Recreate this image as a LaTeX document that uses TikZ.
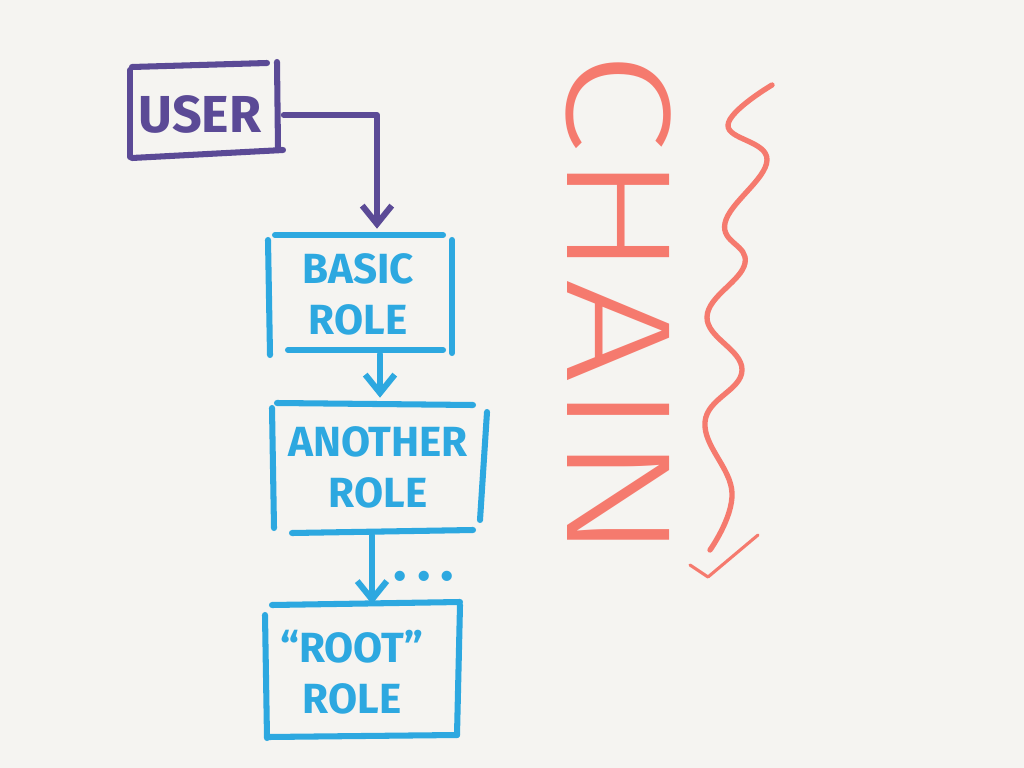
\documentclass[tikz,border=0pt]{standalone}
\usepackage{fontspec}
\setmainfont{Fira Sans}
\newfontfamily\chainfont{Fira Sans Light}
\usetikzlibrary{arrows.meta,calc}
\definecolor{bg}{HTML}{F5F4F1}
\definecolor{userc}{HTML}{5B4A96}
\definecolor{rolec}{HTML}{2DA8E0}
\definecolor{chainc}{HTML}{F57A6E}
\begin{document}
\begin{tikzpicture}[x=0.025cm,y=-0.025cm,line cap=round,line join=round,
  pen/.style={line width=4.3pt},
  upen/.style={pen,draw=userc},
  bpen/.style={pen,draw=rolec},
  tip/.style={-{Straight Barb[length=13pt,width=21pt]}},
  lbl/.style={font=\fontsize{30}{36}\selectfont\bfseries,align=center,inner sep=0pt},
  ulbl/.style={lbl,text=userc,font=\fontsize{37}{40}\selectfont\bfseries},
  blbl/.style={lbl,text=rolec}]
\fill[bg] (0,0) rectangle (1024,768);
\useasboundingbox (0,0) rectangle (1024,768);

% USER
\node[ulbl,minimum width=3.675cm,minimum height=2.25cm] (user) at (200,114) {USER};
\draw[upen] (132,67) -- (267,63);
\draw[upen] (277,62) -- (278,148);
\draw[upen] (132,158) -- (283,150);
\draw[upen] (130,70) -- (130,157);

% BASIC ROLE
\node[blbl,minimum width=4.675cm,minimum height=2.875cm] (basic) at (358,294.5) {BASIC\\ROLE};
\draw[bpen] (275,235) -- (443,235);
\draw[bpen] (268,240) -- (270,355);
\draw[bpen] (452,240) -- (452,353);
\draw[bpen] (288,350) -- (443,350);

% ANOTHER ROLE
\node[blbl,minimum width=5.35cm,minimum height=3.125cm] (another) at (378,467.5) {ANOTHER\\ROLE};
\draw[bpen] (277,403) -- (473,405);
\draw[bpen] (272,408) -- (274,528);
\draw[bpen] (487,412) -- (480,520);
\draw[bpen] (292,533) -- (473,530);

% ROOT ROLE
\node[blbl,minimum width=4.95cm,minimum height=3.375cm] (root) at (352,672) {“ROOT”\\ROLE};
\draw[bpen] (272,605) -- (460,602);
\draw[bpen] (265,615) -- (267,738);
\draw[bpen] (460,605) -- (457,735);
\draw[bpen] (268,737) -- (457,735);

\node[blbl,font=\fontsize{40}{40}\selectfont\bfseries] (dots) at (424,576) {.\hspace{7pt}.\hspace{7pt}.};

% connectors
\draw[upen,tip] ($(user.east)+(10,1)$) -| ($(basic.north)+(19,-8)$);
\draw[bpen,tip] ($(basic.south)+(22,2)$) -- ($(another.north)+(2,-7)$);
\draw[bpen,tip] ($(another.south)+(-6,5)$) -- ($(root.north)+(20,0)$);

% CHAIN
\node[text=chainc,font=\chainfont\fontsize{106}{106}\selectfont,inner sep=0pt,
      rotate=-90,xscale=1.25] (chain) at (619,306) {CHAIN};
\draw[chainc,line width=3.8pt] plot[smooth,tension=0.7] coordinates {
  (772,85) (728,125) (767,160) (725,223) (745,263) (707,317)
  (742,370) (705,422) (732,493) (710,550)};
\draw[chainc,line width=2.2pt] (690,565) -- (708,577) -- (758,535);
\end{tikzpicture}
\end{document}
